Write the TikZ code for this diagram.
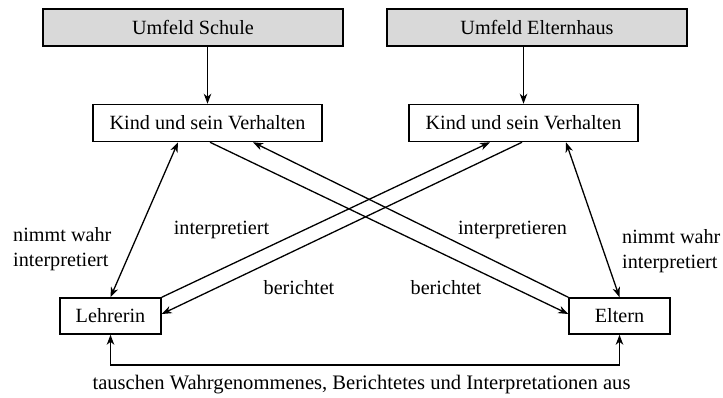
\documentclass[tikz,border=0pt]{standalone}
\usepackage{fontspec}
\setmainfont{Liberation Serif}
\usetikzlibrary{arrows.meta}
\begin{document}
\begin{tikzpicture}[x=1pt,y=-1pt,
  txt/.style={font=\fontsize{20.2}{25}\selectfont, inner sep=0pt},
  box/.style={draw, line width=1.5pt, txt, minimum height=37pt},
  envbox/.style={box, fill=black!15, minimum width=300pt},
  kidbox/.style={box, minimum width=229pt},
  personbox/.style={box, minimum width=101pt, minimum height=36pt},
  conn/.style={line width=1.3pt, -{Stealth[length=10pt,width=7.5pt,inset=3pt]}},
  dconn/.style={line width=1.3pt, {Stealth[length=10pt,width=7.5pt,inset=3pt]}-{Stealth[length=10pt,width=7.5pt,inset=3pt]}}
]
\useasboundingbox (0,0) rectangle (723,397);

% context boxes
\node[envbox] (us) at (193,27.5) {Umfeld Schule};
\node[envbox] (ue) at (537,27.5) {Umfeld Elternhaus};

% child boxes
\node[kidbox] (k1) at (207.5,123) {Kind und sein Verhalten};
\node[kidbox] (k2) at (523.5,123) {Kind und sein Verhalten};

% persons
\node[personbox] (le) at (110.5,316) {Lehrerin};
\node[personbox] (el) at (619.5,316) {Eltern};

% influences of the environment
\draw[conn] (k1.north |- us.south) -- (k1.north);
\draw[conn] (k2.north |- ue.south) -- (k2.north);

% perception
\draw[dconn] (le.north) -- ([xshift=-29.5pt]k1.south);
\draw[dconn] (el.north) -- ([xshift=42.5pt]k2.south);

% crossing connectors
\draw[conn] ([xshift=2.5pt]k1.south) -- ([yshift=2pt]el.west);
\draw[conn] (el.north west) -- ([xshift=45.5pt]k1.south);
\draw[conn] (le.north east) -- ([xshift=-33.5pt]k2.south);
\draw[conn] ([xshift=-1.5pt]k2.south) -- ([yshift=2pt]le.east);

% exchange between teacher and parents
\coordinate (b) at (0,365);
\draw[dconn] (le.south) -- (le.south |- b) -- (el.south |- b) -- (el.south);

% labels
\node[txt, align=left, anchor=west] (l1) at (13,249.5) {nimmt wahr\\interpretiert};
\node[txt, align=left, anchor=west] (l2) at (622,251.5) {nimmt wahr\\interpretiert};
\node[txt] (l3) at (221.5,230) {interpretiert};
\node[txt] (l4) at (299,288) {berichtet};
\node[txt] (l5) at (512.5,230) {interpretieren};
\node[txt] (l6) at (446,288) {berichtet};
\node[txt, font=\fontsize{20.6}{25}\selectfont] (l7) at (361.5,385) {tauschen Wahrgenommenes, Berichtetes und Interpretationen aus};
\end{tikzpicture}
\end{document}
